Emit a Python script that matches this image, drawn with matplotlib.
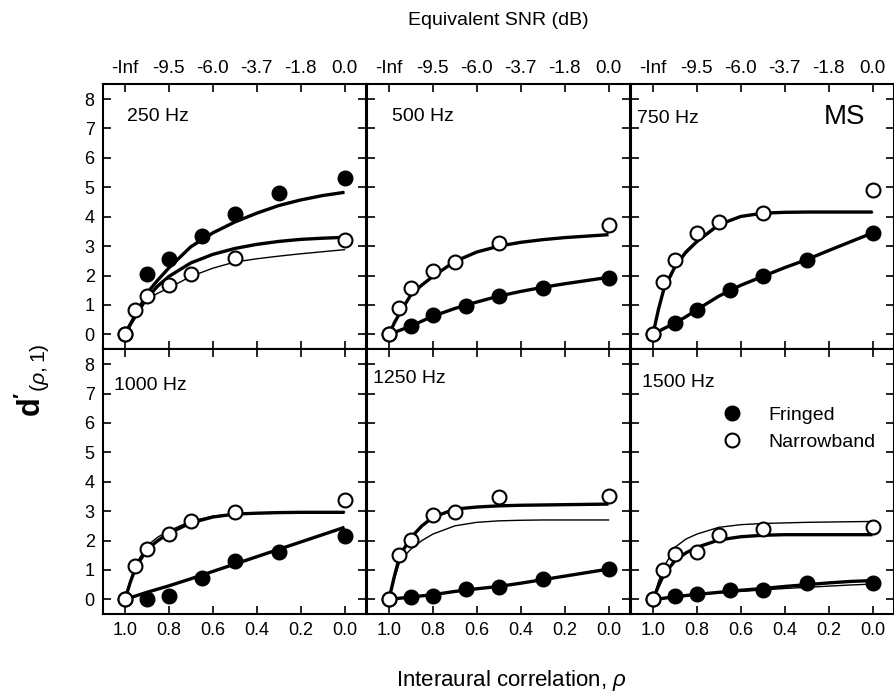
import matplotlib
matplotlib.use("Agg")
import matplotlib.pyplot as plt

plt.rcParams['font.family'] = ['Liberation Sans', 'DejaVu Sans']
plt.rcParams['mathtext.fontset'] = 'custom'
plt.rcParams['mathtext.rm'] = 'Liberation Sans'
plt.rcParams['mathtext.it'] = 'Liberation Sans:italic'
plt.rcParams['mathtext.bf'] = 'Liberation Sans:bold'

# ---------------- data ----------------
panel_labels = ['250 Hz', '500 Hz', '750 Hz', '1000 Hz', '1250 Hz', '1500 Hz']

fr_rho = [1.0, 0.9, 0.8, 0.65, 0.5, 0.3, 0.0]
nb_rho = [1.0, 0.955, 0.9, 0.8, 0.7, 0.5, 0.0]

fringed_250 = [0, 2.07, 2.55, 3.35, 4.08, 4.81, 5.32]
fringed_500 = [0, 0.28, 0.65, 0.98, 1.29, 1.58, 1.93]
fringed_750 = [0, 0.38, 0.84, 1.52, 1.97, 2.54, 3.45]
fringed_1000 = [0, 0.0, 0.12, 0.73, 1.31, 1.6, 2.16]
fringed_1250 = [0, 0.07, 0.1, 0.35, 0.41, 0.69, 1.03]
fringed_1500 = [0, 0.1, 0.2, 0.31, 0.31, 0.57, 0.57]

narrow_250 = [0, 0.84, 1.29, 1.69, 2.04, 2.6, 3.22]
narrow_500 = [0, 0.9, 1.58, 2.14, 2.45, 3.1, 3.73]
narrow_750 = [0, 1.78, 2.54, 3.45, 3.81, 4.14, 4.92]
narrow_1000 = [0, 1.15, 1.71, 2.24, 2.67, 2.96, 3.38]
narrow_1250 = [0, 1.52, 2.03, 2.88, 2.96, 3.49, 3.52]
narrow_1500 = [0, 1.0, 1.56, 1.6, 2.2, 2.39, 2.47]

# model-fit curves, read at these correlations
fit_rho = [1.0, 0.975, 0.95, 0.9, 0.85, 0.8, 0.7, 0.6, 0.5, 0.4, 0.3, 0.2, 0.1, 0.0]

fit_fr_250 = [0, 0.35, 0.67, 1.4, 1.85, 2.26, 2.98, 3.45, 3.82, 4.12, 4.38, 4.57, 4.72, 4.83]
fit_nb_250 = [0, 0.35, 0.65, 1.24, 1.65, 1.97, 2.43, 2.72, 2.92, 3.06, 3.16, 3.23, 3.27, 3.3]
fit_nb_250_thin = [0, 0.4, 0.78, 1.2, 1.4, 1.58, 1.97, 2.25, 2.46, 2.57, 2.66, 2.74, 2.81, 2.88]

fit_fr_500 = [0, 0.07, 0.14, 0.28, 0.45, 0.62, 0.88, 1.1, 1.3, 1.46, 1.6, 1.72, 1.83, 1.94]
fit_nb_500 = [0, 0.4, 0.73, 1.35, 1.68, 1.97, 2.48, 2.8, 3.0, 3.13, 3.22, 3.29, 3.34, 3.39]

fit_fr_750 = [0, 0.1, 0.2, 0.38, 0.6, 0.84, 1.3, 1.67, 1.97, 2.27, 2.54, 2.85, 3.15, 3.45]
fit_nb_750 = [0, 0.85, 1.55, 2.3, 2.8, 3.16, 3.73, 4.01, 4.12, 4.15, 4.16, 4.16, 4.16, 4.16]
fit_nb_750_thin = [0, 0.8, 1.5, 2.25, 2.75, 3.12, 3.7, 4.0, 4.11, 4.14, 4.15, 4.15, 4.15, 4.15]

fit_fr_1000 = [0, 0.06, 0.12, 0.24, 0.35, 0.46, 0.7, 0.95, 1.2, 1.45, 1.7, 1.95, 2.2, 2.45]
fit_nb_1000 = [0, 0.6, 1.1, 1.7, 2.0, 2.25, 2.6, 2.8, 2.9, 2.93, 2.95, 2.96, 2.96, 2.96]
fit_nb_1000_thin = [0, 0.65, 1.2, 1.82, 2.12, 2.33, 2.66, 2.83, 2.91, 2.94, 2.96, 2.97, 2.97, 2.97]

fit_fr_1250 = [0, 0.02, 0.04, 0.08, 0.12, 0.16, 0.27, 0.36, 0.44, 0.55, 0.67, 0.79, 0.91, 1.03]
fit_nb_1250 = [0, 0.8, 1.5, 2.1, 2.5, 2.79, 3.07, 3.14, 3.18, 3.2, 3.21, 3.22, 3.23, 3.24]
fit_nb_1250_thin = [0, 0.7, 1.31, 1.71, 2.0, 2.22, 2.5, 2.62, 2.67, 2.69, 2.7, 2.7, 2.7, 2.7]

fit_fr_1500 = [0, 0.02, 0.04, 0.09, 0.13, 0.17, 0.24, 0.31, 0.37, 0.44, 0.5, 0.56, 0.61, 0.64]
fit_fr_1500_thin = [0, 0.02, 0.04, 0.08, 0.12, 0.16, 0.22, 0.27, 0.32, 0.37, 0.41, 0.45, 0.49, 0.52]
fit_nb_1500 = [0, 0.45, 0.85, 1.31, 1.58, 1.77, 2.02, 2.13, 2.18, 2.2, 2.2, 2.2, 2.2, 2.2]
fit_nb_1500_thin = [0, 0.6, 1.1, 1.77, 2.05, 2.22, 2.45, 2.54, 2.58, 2.6, 2.62, 2.63, 2.64, 2.65]

rho_ticks = [1.0, 0.8, 0.6, 0.4, 0.2, 0.0]
rho_labels = ['1.0', '0.8', '0.6', '0.4', '0.2', '0.0']
snr_labels = ['-Inf', '-9.5', '-6.0', '-3.7', '-1.8', '0.0']
y_ticks = [0, 1, 2, 3, 4, 5, 6, 7, 8]

fringed = [fringed_250, fringed_500, fringed_750, fringed_1000, fringed_1250, fringed_1500]
narrow = [narrow_250, narrow_500, narrow_750, narrow_1000, narrow_1250, narrow_1500]
thick_fits = [
    [fit_fr_250, fit_nb_250],
    [fit_fr_500, fit_nb_500],
    [fit_fr_750, fit_nb_750],
    [fit_fr_1000, fit_nb_1000],
    [fit_fr_1250, fit_nb_1250],
    [fit_fr_1500, fit_nb_1500],
]
thin_fits = [
    [fit_nb_250_thin],
    [],
    [fit_nb_750_thin],
    [fit_nb_1000_thin],
    [fit_nb_1250_thin],
    [fit_fr_1500_thin, fit_nb_1500_thin],
]

# ---------------- figure ----------------
W, H = 895, 694
fig = plt.figure(figsize=(W / 100, H / 100), dpi=100)

col_left = [103, 367, 631]
col_w = 263.5
row_top = [83.5, 348.5]
row_h = 265

label_pos = [(0.092, 0.875), (0.094, 0.875), (0.022, 0.868),
             (0.04, 0.862), (0.024, 0.887), (0.041, 0.87)]

axes = []
for i in range(6):
    r, c = divmod(i, 3)
    left = col_left[c] / W
    bottom = 1 - (row_top[r] + row_h) / H
    ax = fig.add_axes([left, bottom, col_w / W, row_h / H])
    axes.append(ax)

    for f in thin_fits[i]:
        ax.plot(fit_rho, f, color='black', lw=1.0, zorder=2)
    for f in thick_fits[i]:
        ax.plot(fit_rho, f, color='black', lw=2.4, zorder=2, solid_capstyle='butt')

    ax.plot(fr_rho, fringed[i], 'o', color='black', ms=10.5, zorder=3,
            label='Fringed')
    ax.plot(nb_rho, narrow[i], 'o', mfc='white', mec='black', mew=1.5, ms=10,
            zorder=4, label='Narrowband')

    ax.set_xlim(1.1, -0.1)
    ax.set_ylim(-0.48, 8.53)
    ax.set_yticks(y_ticks)
    ax.set_xticks(rho_ticks)
    ax.tick_params(direction='in', length=5.5, width=1.2, top=True, right=True,
                   labelsize=13, pad=6)
    for s in ax.spines.values():
        s.set_linewidth(1.5)

    if r == 0:
        ax.set_xticklabels(snr_labels)
        ax.tick_params(axis='x', labeltop=True, labelbottom=False, labelsize=13.5, pad=5)
    else:
        ax.set_xticklabels(rho_labels)
    if c != 0:
        ax.tick_params(axis='y', labelleft=False)

    lx, ly = label_pos[i]
    ax.text(lx, ly, panel_labels[i], transform=ax.transAxes, fontsize=14,
            ha='left', va='center')

axes[2].text(0.888, 0.875, 'MS', transform=axes[2].transAxes, fontsize=20,
             ha='right', va='center')

axes[5].legend(loc='upper left', bbox_to_anchor=(0.3, 0.81), frameon=False,
               fontsize=14, handletextpad=1.1, labelspacing=0.45,
               borderaxespad=0, handlelength=1.5)

fig.text(0.5565, 0.97, 'Equivalent SNR (dB)', fontsize=14, ha='center', va='center')
fig.text(0.571, 0.02, r'Interaural correlation, $\rho$', fontsize=16,
         ha='center', va='center')
fig.text(0.035, 0.452, r"$\mathbf{d'}_{(\rho,1)}$", fontsize=22, rotation=90,
         ha='center', va='center')

fig.savefig('out.png', dpi=100)
